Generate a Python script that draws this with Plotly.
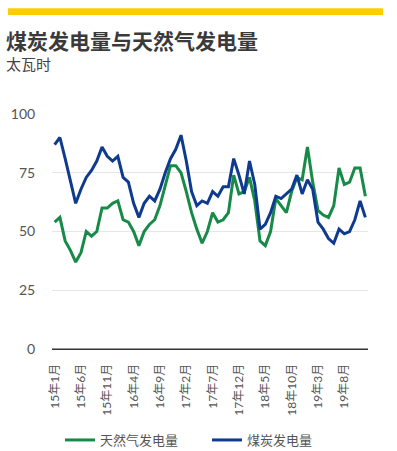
import plotly.graph_objects as go

tick_labels = ["15年1月", "15年6月", "15年11月", "16年4月", "16年9月", "17年2月",
               "17年7月", "17年12月", "18年5月", "18年10月", "19年3月", "19年8月"]

# monthly values, Jan 2015 - Dec 2019 (TWh)
coal = [87, 90, 81, 71, 62, 68, 73, 76, 80, 86, 82, 80,
        82, 73, 71, 62, 56, 62, 65, 63, 68, 75, 81, 85,
        91, 80, 67, 61, 63, 62, 67, 65, 69, 69, 81, 74,
        66, 80, 70, 51, 53, 58, 65, 64, 66, 68, 74, 66,
        72, 68, 54, 51, 47, 45, 51, 49, 50, 55, 63, 56]
gas = [54, 56, 46, 42, 37, 41, 50, 48, 50, 60, 60, 62,
       63, 55, 54, 50, 44, 50, 53, 55, 61, 70, 78, 78,
       75, 67, 58, 51, 45, 50, 58, 54, 55, 58, 74, 66,
       67, 73, 63, 46, 44, 50, 64, 61, 58, 67, 73, 72,
       86, 71, 59, 57, 56, 61, 77, 70, 71, 77, 77, 65]

gas_name = "天然气发电量"
coal_name = "煤炭发电量"

months = list(range(len(coal)))
tick_pos = months[::5]

W, H = 397, 451
L, R, T, B = 52, 29, 114, 102
pw, ph = W - L - R, H - T - B


def px(x):
    return (x - L) / pw


def py(y):
    return (H - B - y) / ph


fig = go.Figure()
fig.add_trace(go.Scatter(x=months, y=gas, mode="lines", name=gas_name,
                         line=dict(color="#178a48", width=3)))
fig.add_trace(go.Scatter(x=months, y=coal, mode="lines", name=coal_name,
                         line=dict(color="#0f3b8e", width=3)))

font_main = "Lato, 'Noto Sans CJK SC', sans-serif"

fig.update_layout(
    width=W, height=H,
    margin=dict(l=L, r=R, t=T, b=B, autoexpand=False),
    paper_bgcolor="white", plot_bgcolor="white",
    font=dict(family=font_main, color="#555555"),
    showlegend=True,
    legend=dict(orientation="h", x=px(60), y=py(440), xanchor="left", yanchor="middle",
                font=dict(size=13, color="#555555"), itemwidth=30, entrywidth=102,
                traceorder="normal", bgcolor="rgba(0,0,0,0)"),
    xaxis=dict(range=[-0.5, len(months) - 0.5], tickmode="array", tickvals=tick_pos,
               ticktext=tick_labels, tickangle=-90, tickfont=dict(size=12, color="#555555"),
               showgrid=False, zeroline=False, showline=True, linecolor="#333333",
               linewidth=1, ticks="outside", ticklen=9, tickcolor="rgba(0,0,0,0)",
               automargin=False),
    yaxis=dict(range=[0, 100], tickvals=[0, 25, 50, 75, 100],
               tickfont=dict(size=14, color="#555555"), showgrid=True,
               gridcolor="#e6e6e6", gridwidth=1, zeroline=False, showline=False,
               ticks="outside", ticklen=13, tickcolor="rgba(0,0,0,0)",
               automargin=False),
    shapes=[dict(type="rect", xref="paper", yref="paper",
                 x0=px(8), x1=px(383), y0=py(15), y1=py(8.3),
                 fillcolor="#ffcc00", line=dict(width=0), layer="above")],
    annotations=[
        dict(text="<b>煤炭发电量与天然气发电量</b>", xref="paper", yref="paper",
             x=px(4), y=py(40), xanchor="left", yanchor="middle", showarrow=False,
             font=dict(family="'Noto Sans CJK SC', sans-serif", size=21, color="#3a3a3a")),
        dict(text="太瓦时", xref="paper", yref="paper",
             x=px(4), y=py(64), xanchor="left", yanchor="middle", showarrow=False,
             font=dict(family="'Noto Sans CJK SC', sans-serif", size=15, color="#444444")),
    ],
)

# zero baseline
fig.add_hline(y=0, line=dict(color="#333333", width=1.2))

fig.write_html("out.html",
               config={"displayModeBar": False},
               post_script="document.body.style.margin='0';document.body.style.overflow='hidden';")
